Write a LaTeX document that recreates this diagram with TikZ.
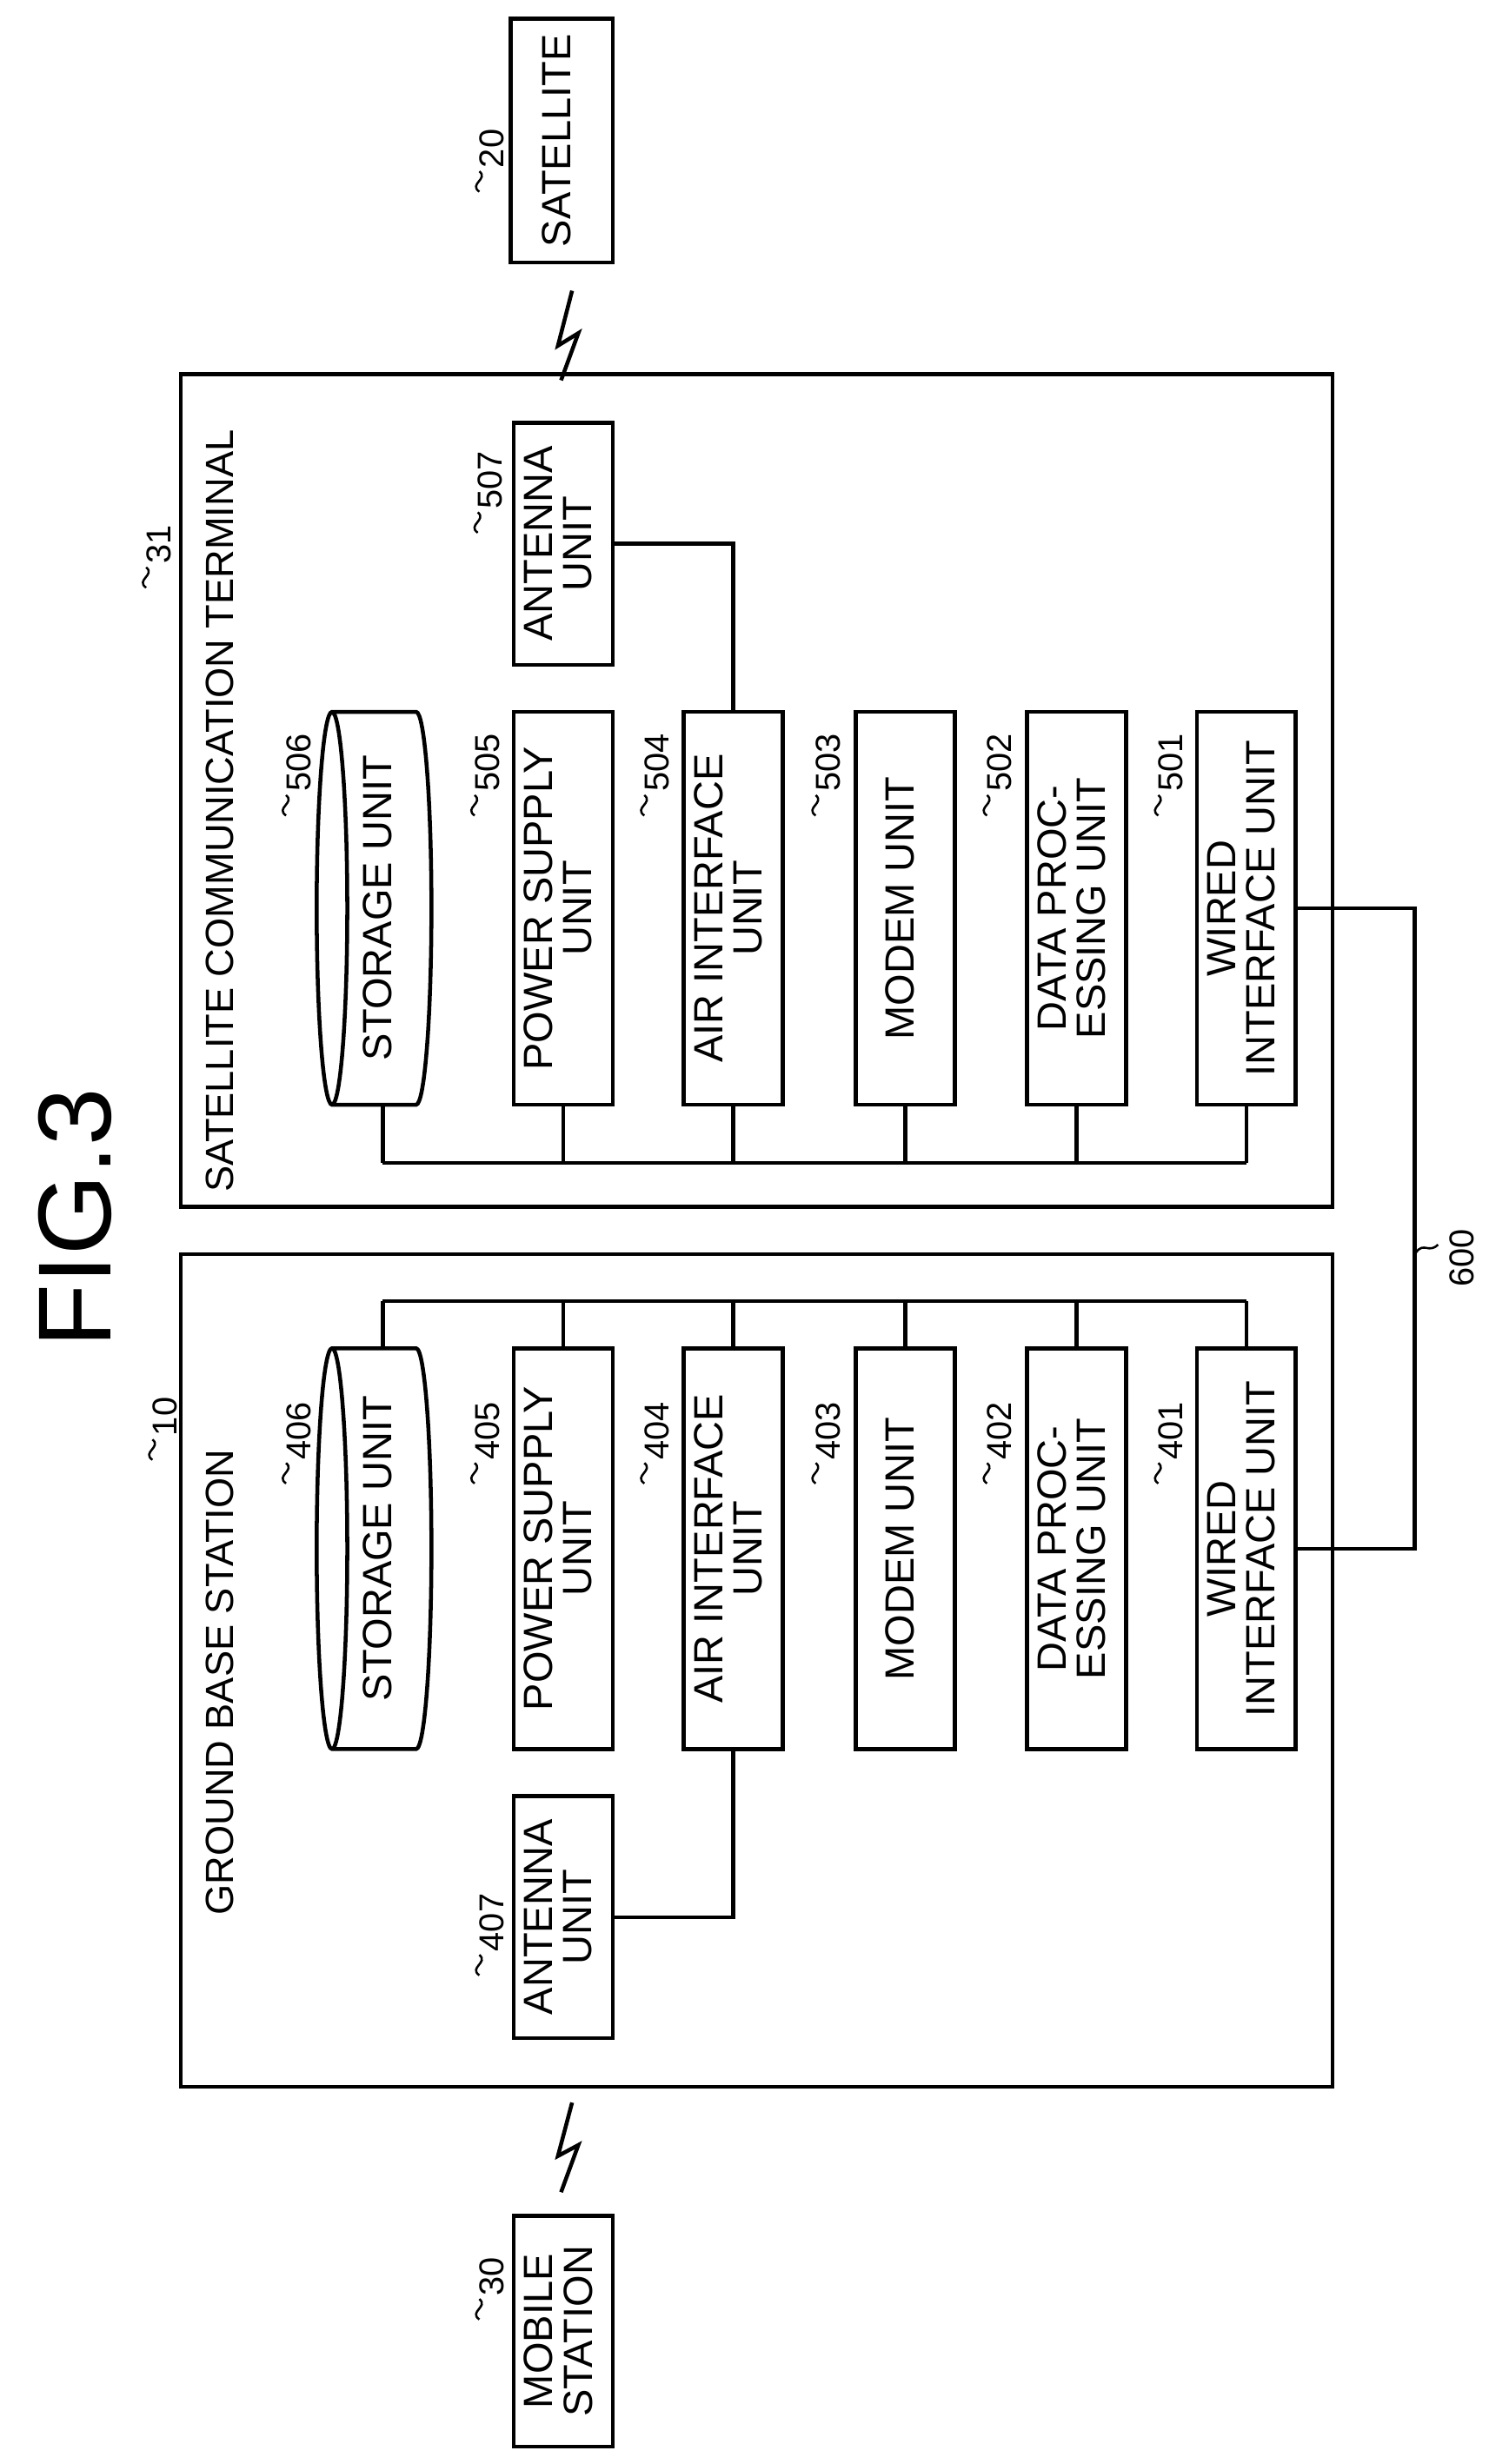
\documentclass[tikz,border=0pt]{standalone}
\usepackage{fontspec}
\setmainfont{Liberation Sans}
\usetikzlibrary{shapes.geometric}
\begin{document}
\begin{tikzpicture}[x=1pt,y=-1pt,line width=2.5pt,
  box/.style={draw,inner sep=0pt,font=\fontsize{26}{23}\selectfont},
  cyl/.style={draw,cylinder,shape border rotate=180,aspect=0.1,inner sep=0pt,font=\fontsize{26}{23}\selectfont},
  refn/.style={rotate=90,anchor=west,inner sep=0pt,font=\fontsize{22}{22}\selectfont},
  ttl/.style={rotate=90,anchor=west,inner sep=0pt,font=\fontsize{25}{25}\selectfont}]
\useasboundingbox (0,0) rectangle (960,1568);
\newcommand{\rt}[1]{\rotatebox{90}{\begin{tabular}{@{}c@{}}#1\end{tabular}}}
\newcommand{\rl}[4]{\draw[line width=1.4pt] (#1-1,#2+14) .. controls (#1-8,#2+9) and (#1+5,#2+6) .. (#1-1,#2+1);
  \node[refn] (#4) at (#1+7,#2) {#3};}
\node[rotate=90,font=\fontsize{66}{66}\selectfont] (fig) at (48,775) {FIG.3};
% satellite
\node[box,minimum width=65pt,minimum height=155pt] (sat) at (357.5,89.5) {\rt{SATELLITE}};
\rl{306}{108}{20}{l20}
% terminal
\node[draw,minimum width=733pt,minimum height=530pt,inner sep=0pt] (st) at (481.5,503) {};
\node[ttl] (stt) at (140,760) {SATELLITE COMMUNICATION TERMINAL};
\rl{94}{360}{31}{l31}
\node[box,minimum width=63pt,minimum height=154pt] (a507) at (358.5,346) {\rt{ANTENNA\\UNIT}};
\rl{305}{325}{507}{l507}
\node[cyl,minimum width=250pt,minimum height=73pt] (s506) at (243.5,578) {\rt{STORAGE UNIT}};
\node[box,minimum width=63pt,minimum height=250pt] (b505) at (358.5,578) {\rt{POWER SUPPLY\\UNIT}};
\node[box,minimum width=63pt,minimum height=250pt] (b504) at (466.5,578) {\rt{AIR INTERFACE\\UNIT}};
\node[box,minimum width=63pt,minimum height=250pt] (b503) at (576,578) {\rt{MODEM UNIT}};
\node[box,minimum width=63pt,minimum height=250pt] (b502) at (685,578) {\rt{DATA PROC-\\ESSING UNIT}};
\node[box,minimum width=63pt,minimum height=250pt] (b501) at (793,578) {\rt{WIRED\\INTERFACE UNIT}};
\rl{183}{505}{506}{l506}
\rl{303}{505}{505}{l505}
\rl{411}{505}{504}{l504}
\rl{520}{505}{503}{l503}
\rl{629}{505}{502}{l502}
\rl{738}{505}{501}{l501}
\coordinate (bus1) at (0,740);
\draw (s506.south |- bus1) -- (b501.south |- bus1);
\foreach \n in {s506,b505,b504,b503,b502,b501} \draw (\n.south) -- (\n.south |- bus1);
\draw (a507.east) -| (b504.north);
\draw (357,242) -- (368,212) -- (355,220) -- (364,185);
% ground
\node[draw,minimum width=733pt,minimum height=530pt,inner sep=0pt] (gb) at (481.5,1063) {};
\node[ttl] (gbt) at (140,1220) {GROUND BASE STATION};
\rl{98}{915}{10}{l10}
\node[cyl,minimum width=255pt,minimum height=73pt] (s406) at (243.5,985.5) {\rt{STORAGE UNIT}};
\node[box,minimum width=63pt,minimum height=255pt] (b405) at (358.5,985.5) {\rt{POWER SUPPLY\\UNIT}};
\node[box,minimum width=63pt,minimum height=255pt] (b404) at (466.5,985.5) {\rt{AIR INTERFACE\\UNIT}};
\node[box,minimum width=63pt,minimum height=255pt] (b403) at (576,985.5) {\rt{MODEM UNIT}};
\node[box,minimum width=63pt,minimum height=255pt] (b402) at (685,985.5) {\rt{DATA PROC-\\ESSING UNIT}};
\node[box,minimum width=63pt,minimum height=255pt] (b401) at (793,985.5) {\rt{WIRED\\INTERFACE UNIT}};
\rl{183}{930}{406}{l406}
\rl{303}{930}{405}{l405}
\rl{411}{930}{404}{l404}
\rl{520}{930}{403}{l403}
\rl{629}{930}{402}{l402}
\rl{738}{930}{401}{l401}
\coordinate (bus2) at (0,828);
\draw (s406.north |- bus2) -- (b401.north |- bus2);
\foreach \n in {s406,b405,b404,b403,b402,b401} \draw (\n.north) -- (\n.north |- bus2);
\node[box,minimum width=63pt,minimum height=154pt] (a407) at (358.5,1220) {\rt{ANTENNA\\UNIT}};
\rl{306}{1243}{407}{l407}
\draw (a407.east) -| (b404.south);
% wired link
\coordinate (w600) at (900,0);
\draw (b501.east) -| (w600 |- b401.east) -- (b401.east);
\draw[line width=1.4pt] (915,792) .. controls (909,798) and (906,790) .. (901,797);
\node[refn] (l600) at (930,820) {600};
% mobile
\node[box,minimum width=63pt,minimum height=147pt] (ms) at (358.5,1483.5) {\rt{MOBILE\\STATION}};
\rl{306}{1462}{30}{l30}
\draw (357,1395) -- (368,1365) -- (355,1372) -- (364,1338);
\end{tikzpicture}
\end{document}
